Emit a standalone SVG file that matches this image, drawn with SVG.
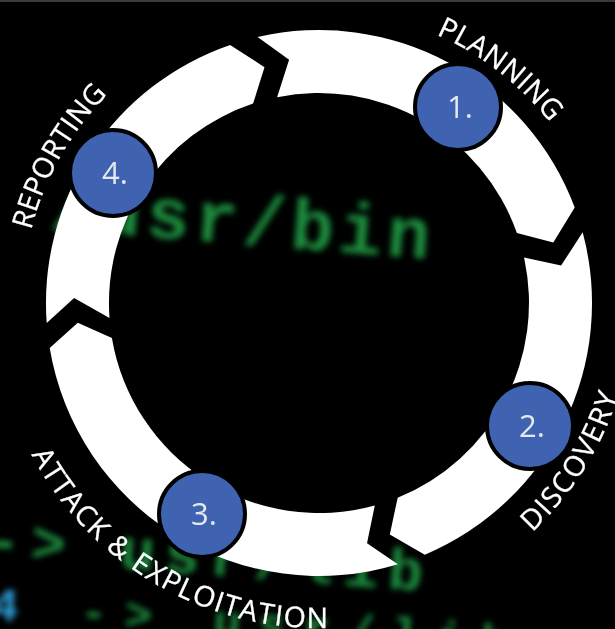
<svg xmlns="http://www.w3.org/2000/svg" width="615" height="629" viewBox="0 0 615 629">
  <defs>
    <style>
      .bgtxt { font-family: "Liberation Mono", "DejaVu Sans Mono", monospace; font-weight: bold; fill: #1a8c3e; }
      .arrow { fill: #ffffff; }
      .badge { fill: #3f63b0; stroke: #000000; stroke-width: 4; }
      .num { font-family: "Open Sans", "Noto Sans", sans-serif; font-size: 31px; fill: #e4e8f0; text-anchor: middle; }
      .lbl { font-family: "Open Sans", "Noto Sans", sans-serif; font-size: 28.5px; fill: #ffffff; text-anchor: middle; stroke: #ffffff; stroke-width: 0.3; }
    </style>
    <filter id="blur" x="-10%" y="-30%" width="120%" height="160%">
      <feGaussianBlur stdDeviation="3.4"/>
    </filter>
    <path id="arcPlan" d="M 172.5 49.3 A 293 293 0 0 1 612 303"/>
    <path id="arcRep" d="M 61.8 451.5 A 297 297 0 0 1 319 6"/>
    <path id="arcDisc" d="M 319 616 A 313 313 0 0 0 590.1 146.5"/>
    <path id="arcAtk" d="M -1.1 246.6 A 325 325 0 0 0 568.0 511.9"/>
  </defs>

  <rect x="0" y="0" width="615" height="629" fill="#000000"/>
  <rect x="0" y="0" width="615" height="2" fill="#3a3a3a"/>

  <g id="background" filter="url(#blur)">
    <text class="bgtxt" x="49" y="229" font-size="72" letter-spacing="5" transform="rotate(4.5 49 229)">/usr/bin</text>
    <text class="bgtxt" x="-15" y="558" font-size="58" letter-spacing="10" transform="rotate(4.3 -15 558)">-&gt; usr/lib</text>
    <text class="bgtxt" x="-10" y="619" font-size="46" letter-spacing="17" transform="rotate(4.3 -10 619)"><tspan fill="#2e9fd6">4</tspan> -&gt; usr/lib</text>
  </g>

  <g id="connectors">
    <path class="arrow" d="M 257.6 37.0 A 273 273 0 0 1 574.7 207.4 L 553.3 242.4 L 516.9 232.9 A 210 210 0 0 0 277.1 97.2 L 289.1 59.8 Z"/>
    <path class="arrow" d="M 582.7 232.3 A 273 273 0 0 1 424.8 554.7 L 389.8 534.4 L 397.7 497.7 A 210 210 0 0 0 524.0 257.5 L 561.1 265.5 Z"/>
    <path class="arrow" d="M 397.9 564.3 A 273 273 0 0 1 49.7 348.0 L 77.8 322.8 L 111.9 338.0 A 210 210 0 0 0 374.8 505.5 L 367.0 543.2 Z"/>
    <path class="arrow" d="M 46.7 323.0 A 273 273 0 0 1 230.1 44.9 L 264.5 67.2 L 253.1 103.6 A 210 210 0 0 0 109.5 318.0 L 74.1 297.9 Z"/>
  </g>

  <g id="step1">
    <circle class="badge" cx="458" cy="107" r="43"/>
    <text class="num" x="460" y="118">1.</text>
    <text class="lbl" letter-spacing="0.3"><textPath href="#arcPlan" startOffset="346.7">PLANNING</textPath></text>
  </g>

  <g id="step2">
    <circle class="badge" cx="530" cy="426" r="43"/>
    <text class="num" x="532" y="437">2.</text>
    <text class="lbl" letter-spacing="1.6"><textPath href="#arcDisc" startOffset="316.8">DISCOVERY</textPath></text>
  </g>

  <g id="step3">
    <circle class="badge" cx="202" cy="514" r="43"/>
    <text class="num" x="204" y="525">3.</text>
    <text class="lbl" letter-spacing="1.4"><textPath href="#arcAtk" startOffset="395.9">ATTACK &amp; EXPLOITATION</textPath></text>
  </g>

  <g id="step4">
    <circle class="badge" cx="113" cy="173" r="43"/>
    <text class="num" x="115" y="184">4.</text>
    <text class="lbl" letter-spacing="0.2"><textPath href="#arcRep" startOffset="307.9">REPORTING</textPath></text>
  </g>
</svg>
